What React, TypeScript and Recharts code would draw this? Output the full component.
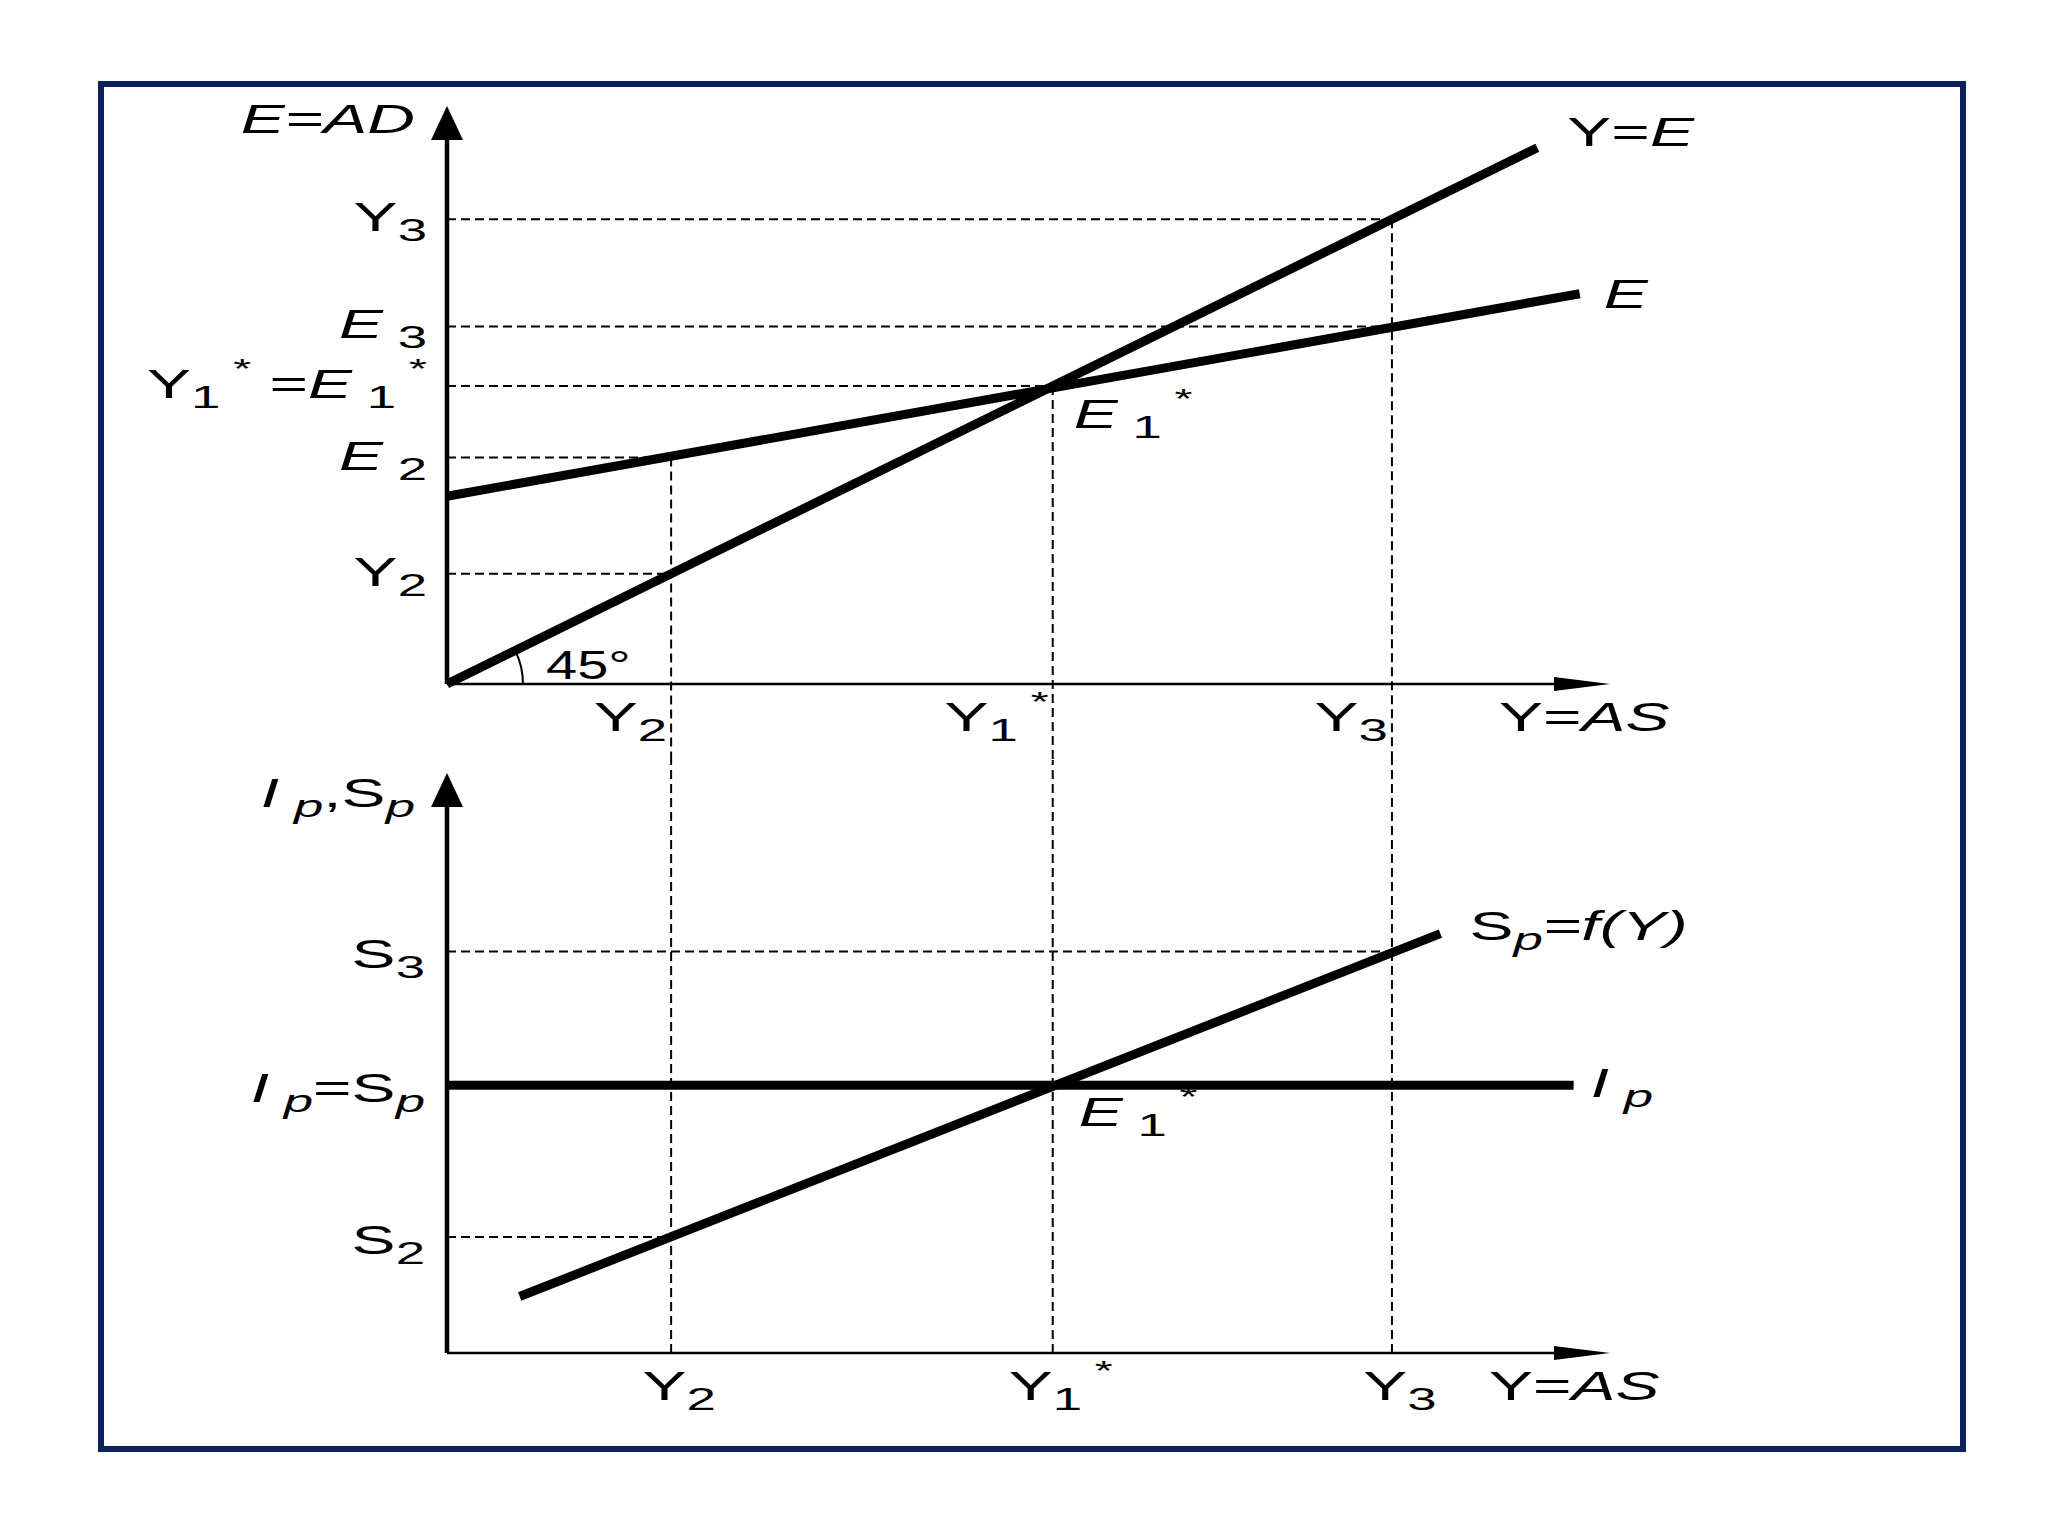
import { LineChart, Line, XAxis, YAxis, ReferenceLine, ReferenceDot } from "recharts";

type Seg = [string, string?];

// income levels on both horizontal axes: Y2, Y1*, Y3
const incomeLevels = [37, 100, 156];
const incomeLabels: Seg[][] = [
  [["Y"], ["2", "_"]],
  [["Y"], ["1", "_"], [" *", "^"]],
  [["Y"], ["3", "_"]],
];
const xAxisMax = 192;

// upper panel: 45 degree line and aggregate expenditure
const lineYE = [{ x: 0, v: 0 }, { x: 180, v: 180 }];
const lineE = [{ x: 0, v: 63 }, { x: 187, v: 131 }];
const upperMax = 194;
const upperLevels = [37, 76, 100, 120, 156];
const upperLabels: Seg[][] = [
  [["Y"], ["2", "_"]],
  [["E", "i"], [" 2", "_"]],
  [["Y"], ["1", "_"], [" *", "^"], [" ="], ["E", "i"], [" 1", "_"], [" *", "^"]],
  [["E", "i"], [" 3", "_"]],
  [["Y"], ["3", "_"]],
];
// dashed guides from the vertical axis out to an income level
const upperGuides = [
  { v: 156, x: 156 },
  { v: 120, x: 156 },
  { v: 100, x: 100 },
  { v: 76, x: 37 },
  { v: 37, x: 37 },
];
// drop lines start on the curves
const upperDrops = [
  { x: 37, v: 76 },
  { x: 100, v: 100 },
  { x: 156, v: 156 },
];

// lower panel: planned investment and saving
const lineIp = [{ x: 0, v: 90 }, { x: 186, v: 90 }];
const lineSp = [{ x: 12, v: 19 }, { x: 164, v: 141 }];
const lowerMax = 195;
const lowerLevels = [39, 90, 135];
const lowerLabels: Seg[][] = [
  [["S"], ["2", "_"]],
  [["I", "i"], [" p", "i_"], ["="], ["S"], ["p", "i_"]],
  [["S"], ["3", "_"]],
];
const lowerGuides = [
  { v: 135, x: 156 },
  { v: 39, x: 37 },
];

const FONT = '"Liberation Sans", Arial, Helvetica, sans-serif';
const W = 2048;
const TOP_H = 760;
const BOT_H = 700;
const topMargin = { top: 106, right: 438, bottom: 76, left: 447 };
const botMargin = { top: 13, right: 438, bottom: 107, left: 447 };

function Rich({ x, y, segs, anchor = "start", size = 40, sx = 1.65 }: any) {
  let level = 0;
  return (
    <text transform={`translate(${x},${y}) scale(${sx},1)`} textAnchor={anchor} fontFamily={FONT} fontSize={size} fill="#000">
      {segs.map(([t, f = ""]: Seg, i: number) => {
        const sub = f.includes("_");
        const sup = f.includes("^");
        const target = sub ? size * 0.25 : sup ? -size * 0.5 : 0;
        const dy = target - level;
        level = target;
        return (
          <tspan key={i} dy={dy} fontStyle={f.includes("i") ? "italic" : "normal"} fontSize={sub ? size * 0.8 : sup ? size * 0.7 : size}>
            {t}
          </tspan>
        );
      })}
    </text>
  );
}

const note = (key: string, x: number, y: number, segs: Seg[], dx: number, dy: number, anchor = "start", sx = 1.65) => (
  <ReferenceDot
    key={key}
    x={x}
    y={y}
    r={1}
    ifOverflow="visible"
    shape={(p: any) => <Rich x={p.cx + dx} y={p.cy + dy} segs={segs} anchor={anchor} sx={sx} />}
  />
);

const upArrow = (y: number) => (
  <ReferenceDot
    x={0}
    y={y}
    r={1}
    ifOverflow="visible"
    shape={(p: any) => <path d={`M${p.cx},${p.cy} L${p.cx - 16},${p.cy + 34} L${p.cx + 16},${p.cy + 34} Z`} fill="#000" />}
  />
);

const rightArrow = (
  <ReferenceDot
    x={xAxisMax}
    y={0}
    r={1}
    ifOverflow="visible"
    shape={(p: any) => <path d={`M${p.cx},${p.cy} L${p.cx - 56},${p.cy - 7} L${p.cx - 56},${p.cy + 7} Z`} fill="#000" />}
  />
);

const dash = { stroke: "#000", strokeWidth: 2, strokeDasharray: "9 5", ifOverflow: "visible" as const };
const curve = { stroke: "#000", strokeWidth: 9, dot: false, activeDot: false, isAnimationActive: false, dataKey: "v" };

export default function App() {
  const pxX = (W - topMargin.left - topMargin.right) / xAxisMax;
  const pxY = (TOP_H - topMargin.top - topMargin.bottom) / upperMax;
  const ang = Math.atan(pxY / pxX);

  return (
    <div style={{ position: "absolute", left: 0, top: 0, width: W, height: 1536, background: "#fff" }}>
      <div
        style={{
          position: "absolute",
          left: 98,
          top: 81,
          width: 1868,
          height: 1371,
          boxSizing: "border-box",
          border: "6px solid #0d2160",
        }}
      />
      <div style={{ position: "absolute", left: 0, top: 0 }}>
        <LineChart width={W} height={TOP_H} margin={topMargin}>
          <XAxis type="number" dataKey="x" domain={[0, xAxisMax]} hide />
          <YAxis type="number" domain={[0, upperMax]} hide />
          {upperGuides.map((g) => (
            <ReferenceLine key={"h" + g.v} segment={[{ x: 0, y: g.v }, { x: g.x, y: g.v }]} {...dash} />
          ))}
          {upperDrops.map((d) => (
            <ReferenceLine key={"d" + d.x} segment={[{ x: d.x, y: d.v }, { x: d.x, y: -30 }]} {...dash} />
          ))}
          <Line data={lineE} {...curve} />
          <Line data={lineYE} {...curve} />
          <ReferenceLine segment={[{ x: 0, y: 0 }, { x: 0, y: upperMax - 8 }]} stroke="#000" strokeWidth={4.5} ifOverflow="visible" />
          <ReferenceLine segment={[{ x: 0, y: 0 }, { x: xAxisMax - 6, y: 0 }]} stroke="#000" strokeWidth={2.5} ifOverflow="visible" />
          {upArrow(upperMax)}
          {rightArrow}
          <ReferenceDot
            x={0}
            y={0}
            r={1}
            ifOverflow="visible"
            shape={(p: any) => (
              <g>
                <path
                  d={`M${p.cx + 76},${p.cy} A76,76 0 0 0 ${p.cx + 76 * Math.cos(ang)},${p.cy - 76 * Math.sin(ang)}`}
                  fill="none"
                  stroke="#000"
                  strokeWidth={2}
                />
                <Rich x={p.cx + 99} y={p.cy - 5} segs={[["45°"]]} sx={1.4} />
              </g>
            )}
          />
          {upperLevels.map((v, i) => note("yl" + v, 0, v, upperLabels[i], -20, 12, "end"))}
          {incomeLevels.map((v, i) => note("xl" + v, v, 0, incomeLabels[i], -4, 47, "end"))}
          {note("ead", 0, upperMax, [["E=AD", "i"]], -32, 27, "end")}
          {note("ye", 180, 180, [["Y="], ["E", "i"]], 30, -2)}
          {note("e", 187, 131, [["E", "i"]], 24, 14)}
          {note("e1", 100, 100, [["E", "i"], [" 1", "_"], [" *", "^"]], 21, 42)}
          {note("yas", xAxisMax, 0, [["Y="], ["AS", "i"]], -111, 47)}
        </LineChart>
      </div>
      <div style={{ position: "absolute", left: 0, top: TOP_H }}>
        <LineChart width={W} height={BOT_H} margin={botMargin}>
          <XAxis type="number" dataKey="x" domain={[0, xAxisMax]} hide />
          <YAxis type="number" domain={[0, lowerMax]} hide />
          {lowerGuides.map((g) => (
            <ReferenceLine key={"h" + g.v} segment={[{ x: 0, y: g.v }, { x: g.x, y: g.v }]} {...dash} />
          ))}
          {incomeLevels.map((x) => (
            <ReferenceLine key={"d" + x} segment={[{ x, y: 0 }, { x, y: lowerMax + 10 }]} {...dash} />
          ))}
          <Line data={lineIp} {...curve} />
          <Line data={lineSp} {...curve} />
          <ReferenceLine segment={[{ x: 0, y: 0 }, { x: 0, y: lowerMax - 8 }]} stroke="#000" strokeWidth={4.5} ifOverflow="visible" />
          <ReferenceLine segment={[{ x: 0, y: 0 }, { x: xAxisMax - 6, y: 0 }]} stroke="#000" strokeWidth={2.5} ifOverflow="visible" />
          {upArrow(lowerMax)}
          {rightArrow}
          {lowerLevels.map((v, i) => note("yl" + v, 0, v, lowerLabels[i], -22, 17, "end"))}
          {incomeLevels.map((v, i) => note("xl" + v, v, 0, incomeLabels[i], 8, 47, "middle"))}
          {note("ipsp", 0, lowerMax, [["I", "i"], [" p", "i_"], [","], ["S"], ["p", "i_"]], -32, 34, "end")}
          {note("sp", 164, 141, [["S"], ["p", "i_"], ["=f(Y)", "i"]], 29, 6)}
          {note("ip", 186, 90, [["I", "i"], [" p", "i_"]], 17, 12)}
          {note("e1b", 100, 90, [["E", "i"], [" 1", "_"], [" *", "^"]], 26, 41)}
          {note("yas2", xAxisMax, 0, [["Y="], ["AS", "i"]], -121, 47)}
        </LineChart>
      </div>
    </div>
  );
}
